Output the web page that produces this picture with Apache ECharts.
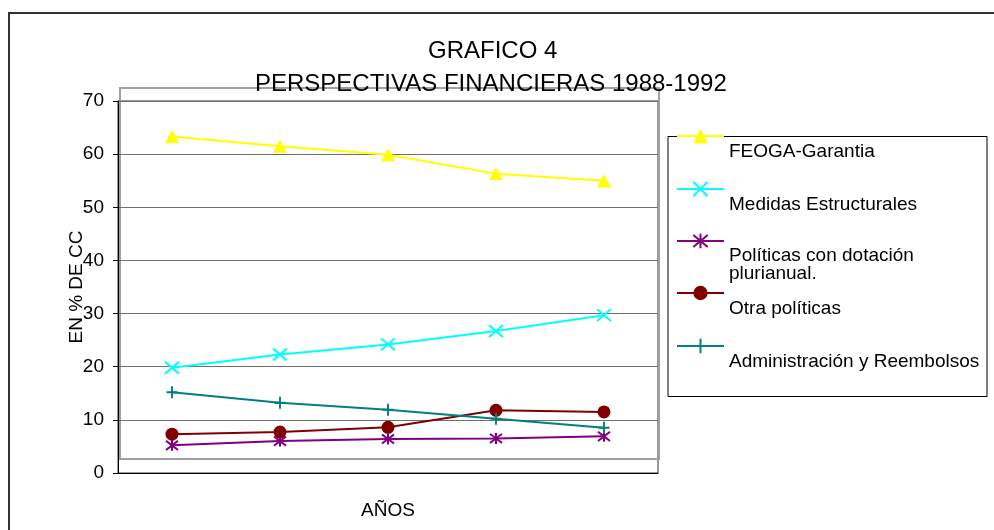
<!DOCTYPE html>
<html>
<head>
<meta charset="utf-8">
<script src="https://cdn.jsdelivr.net/npm/echarts@6/dist/echarts.min.js"></script>
<style>
html,body{margin:0;padding:0;background:#fff;}
#c{width:994px;height:530px;}
</style>
</head>
<body>
<div id="c"></div>
<script>
var years = ['1988', '1989', '1990', '1991', '1992'];
var feoga = [63.3, 61.5, 59.9, 56.3, 55.0];
var medidas = [19.8, 22.3, 24.2, 26.7, 29.7];
var politicas = [5.2, 6.0, 6.4, 6.5, 6.9];
var otra = [7.3, 7.7, 8.6, 11.8, 11.5];
var admin = [15.2, 13.2, 11.9, 10.2, 8.5];
var seriesNames = ['FEOGA-Garantia', 'Medidas Estructurales', 'Políticas con dotación plurianual.', 'Otra políticas', 'Administración y Reembolsos'];
var yTicks = [0, 10, 20, 30, 40, 50, 60, 70];

var FONT = '"Liberation Sans", Arial, sans-serif';
var chart = echarts.init(document.getElementById('c'), null, {renderer: 'canvas'});

function mkLegend(name, top, gap, label) {
  return {
    show: true, orient: 'vertical', left: 676, top: top, padding: 0,
    itemWidth: 47, itemHeight: 18, selectedMode: false,
    data: [name],
    formatter: function () {
      return '{g|.}\n' + label.split('\n').map(function (s) { return '{a|' + s + '}'; }).join('\n');
    },
    textStyle: {
      fontFamily: FONT, fontSize: 19, color: '#000',
      rich: {
        g: {fontFamily: FONT, fontSize: gap, lineHeight: gap, color: 'rgba(0,0,0,0)'},
        a: {fontFamily: FONT, fontSize: 19, color: '#000', lineHeight: 18}
      }
    }
  };
}

var sym = {
  x: 'path://M0,0L10,10M10,0L0,10',
  star: 'path://M0,0L10,10M10,0L0,10M5,-1L5,11',
  plus: 'path://M5,0L5,10M0,5L10,5'
};

function mk(name, data, color, symbol, size, stroke) {
  return {
    name: name, type: 'line', data: data, symbol: symbol, symbolSize: size,
    lineStyle: {color: color, width: 2},
    itemStyle: stroke ? {color: color, borderColor: color, borderWidth: 2} : {color: color, borderWidth: 0},
    emphasis: {disabled: true}, animation: false
  };
}

var option = {
  animation: false,
  title: [
    {text: 'GRAFICO 4', left: 428, top: 39, padding: 0, textStyle: {fontFamily: FONT, fontSize: 24, fontWeight: 'normal', color: '#000'}},
    {text: 'PERSPECTIVAS FINANCIERAS 1988-1992', left: 255, top: 72, padding: 0, textStyle: {fontFamily: FONT, fontSize: 24, fontWeight: 'normal', color: '#000'}}
  ],
  legend: [
    mkLegend(seriesNames[0], 136 - 25, 32, 'FEOGA-Garantia'),
    mkLegend(seriesNames[1], 189 - 25, 32, 'Medidas Estructurales'),
    mkLegend(seriesNames[2], 241 - 42, 48, 'Políticas con dotación\nplurianual.'),
    mkLegend(seriesNames[3], 293 - 25, 32, 'Otra políticas'),
    mkLegend(seriesNames[4], 346 - 25, 32, 'Administración y Reembolsos')
  ],
  grid: {left: 118, top: 101, width: 540, height: 372, show: true, borderColor: '#333', borderWidth: 1, backgroundColor: 'transparent'},
  xAxis: {
    type: 'category', data: years, boundaryGap: true,
    axisLine: {show: true, lineStyle: {color: '#000', width: 1}},
    axisTick: {show: false}, axisLabel: {show: false},
    name: 'AÑOS', nameLocation: 'middle', nameGap: 28,
    nameTextStyle: {fontFamily: FONT, fontSize: 19, color: '#000'}
  },
  yAxis: {
    type: 'value', min: yTicks[0], max: yTicks[yTicks.length - 1], interval: 10,
    axisLine: {show: true, lineStyle: {color: '#000', width: 1}},
    axisTick: {show: true, inside: false, length: 5, lineStyle: {color: '#000'}},
    axisLabel: {fontFamily: FONT, fontSize: 19, color: '#000', margin: 14},
    splitLine: {show: true, lineStyle: {color: '#6e6e6e', width: 1}},
    name: 'EN % DE CC', nameLocation: 'middle', nameGap: 32, nameRotate: 90, nameMoveOverlap: false,
    nameTextStyle: {fontFamily: FONT, fontSize: 19, color: '#000'}
  },
  graphic: [
    {type: 'rect', z: 0, silent: true, shape: {x: 120, y: 88, width: 539, height: 371}, style: {fill: 'none', stroke: '#a0a0a0', lineWidth: 2}},
    {type: 'rect', z: 0, silent: true, shape: {x: 668, y: 136.5, width: 319, height: 260}, style: {fill: 'none', stroke: '#000', lineWidth: 1}},
    {type: 'polyline', z: 0, silent: true, shape: {points: [[9, 531], [9, 13], [995, 13]]}, style: {fill: 'none', stroke: '#333', lineWidth: 2}}
  ],
  series: [
    mk(seriesNames[0], feoga, '#FFFF00', 'triangle', [14, 13], false),
    mk(seriesNames[1], medidas, '#00FFFF', sym.x, [14, 12], true),
    mk(seriesNames[2], politicas, '#800080', sym.star, [12, 11], true),
    mk(seriesNames[3], otra, '#800000', 'circle', 13, false),
    mk(seriesNames[4], admin, '#008080', sym.plus, [11, 12], true)
  ]
};
chart.setOption(option);
</script>
</body>
</html>
